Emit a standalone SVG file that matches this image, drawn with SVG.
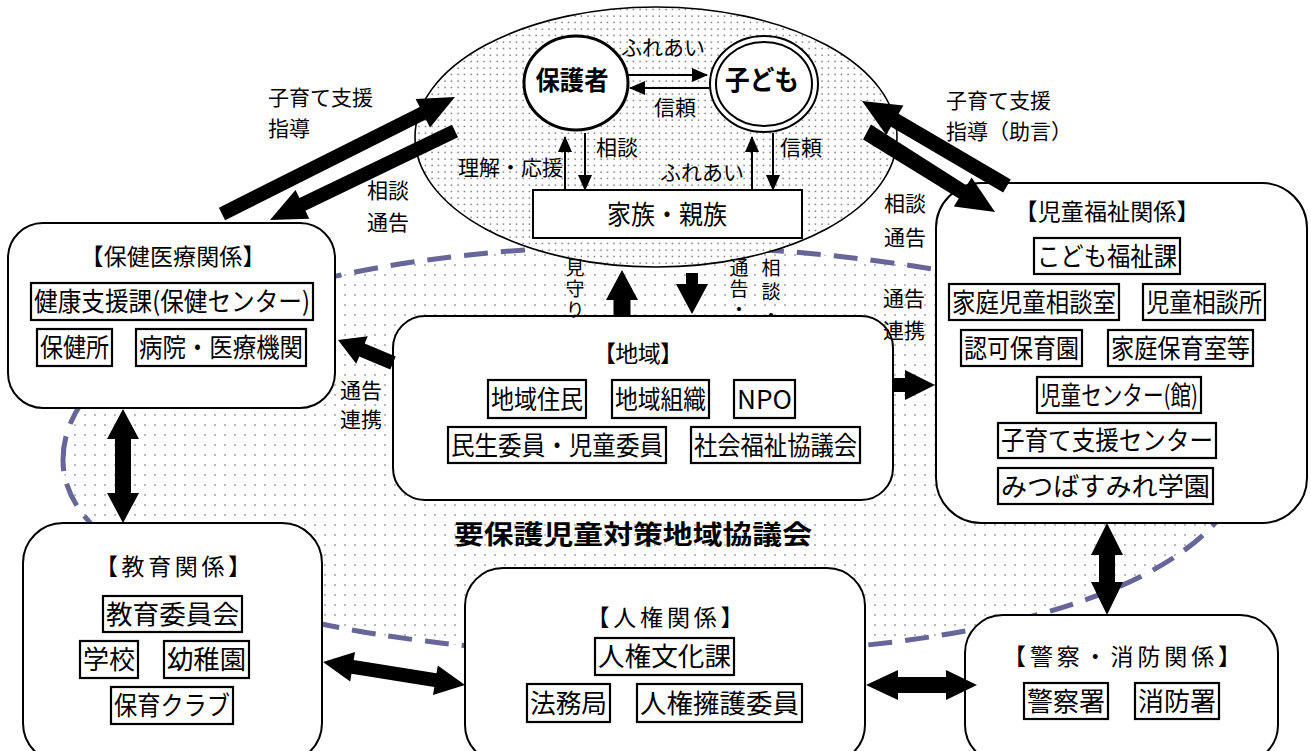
<svg xmlns="http://www.w3.org/2000/svg" width="1311" height="751" viewBox="0 0 1311 751">
<defs>
<style>
text{font-family:"Noto Sans CJK JP","Noto Sans",sans-serif;fill:#000}
.box{fill:#fff;stroke:#000;stroke-width:2}
.ib{fill:#fff;stroke:#000;stroke-width:2.2}
.t{font-size:23px;text-anchor:middle}
.i{font-size:26px;text-anchor:middle}
.l{font-size:21px}
.m{text-anchor:middle}
.e{text-anchor:end}
.v{font-size:19px;writing-mode:vertical-rl}
.thin{stroke:#000;stroke-width:2;fill:none;marker-end:url(#ah)}
.big{fill:#000;stroke:none}
</style>
<pattern id="dotsL" width="10" height="10" patternUnits="userSpaceOnUse"><circle cx="5" cy="5" r="0.9" fill="#9a9a9a"/></pattern>
<pattern id="dotsD" width="6.5" height="6.5" patternUnits="userSpaceOnUse"><circle cx="3" cy="3" r="0.75" fill="#333"/></pattern>
<marker id="ah" viewBox="0 0 16 14" refX="15" refY="7" markerWidth="16" markerHeight="14" markerUnits="userSpaceOnUse" orient="auto"><path d="M0,0 L16,7 L0,14 z" fill="#000"/></marker>
</defs>
<rect width="1311" height="751" fill="#fff"/>

<g id="council">
<path d="M 63,460 C 63,330 330,246 640,246 C 950,246 1250,320 1250,440 C 1250,560 1060,655 660,655 C 330,655 63,580 63,460 Z" fill="url(#dotsL)" stroke="#666699" stroke-width="5" stroke-dasharray="24 13"/>
<text x="633" y="544" font-size="26" font-weight="bold" text-anchor="middle" textLength="358" lengthAdjust="spacingAndGlyphs">要保護児童対策地域協議会</text>
</g>

<g id="family-circle">
<ellipse cx="656" cy="137" rx="241" ry="130" fill="#fff"/>
<ellipse cx="656" cy="137" rx="241" ry="130" fill="url(#dotsD)" stroke="#000" stroke-width="1.6"/>
</g>

<g id="hogosha">
<ellipse cx="576" cy="83" rx="52" ry="47" fill="#fff" stroke="#000" stroke-width="3"/>
<text x="572" y="90" font-size="26" font-weight="bold" text-anchor="middle" textLength="73" lengthAdjust="spacingAndGlyphs">保護者</text>
</g>
<g id="kodomo">
<ellipse cx="764" cy="84" rx="54" ry="48" fill="#fff" stroke="#000" stroke-width="2"/>
<ellipse cx="764" cy="84" rx="48" ry="42" fill="none" stroke="#000" stroke-width="2"/>
<text x="762" y="90" font-size="27" font-weight="bold" text-anchor="middle" textLength="74" lengthAdjust="spacingAndGlyphs">子ども</text>
</g>
<g id="kazoku">
<rect x="533" y="190" width="269" height="48" class="box" stroke-width="2.5"/>
<text x="667" y="223.5" class="i" font-size="24" textLength="120" lengthAdjust="spacingAndGlyphs">家族・親族</text>
</g>

<g id="hoken">
<rect x="8" y="223" width="327" height="185" rx="35" class="box"/>
<text x="173" y="265" class="t" textLength="185">【保健医療関係】</text>
<rect x="31" y="283" width="282" height="37" class="ib"/>
<text x="172" y="311" class="i" textLength="276" lengthAdjust="spacingAndGlyphs">健康支援課(保健センター)</text>
<rect x="37" y="329" width="75" height="37" class="ib"/>
<text x="74.5" y="357" class="i" textLength="69" lengthAdjust="spacingAndGlyphs">保健所</text>
<rect x="136" y="329" width="170" height="37" class="ib"/>
<text x="221" y="357" class="i" textLength="164" lengthAdjust="spacingAndGlyphs">病院・医療機関</text>
</g>

<g id="chiiki">
<rect x="393" y="316" width="500" height="184" rx="32" class="box"/>
<text x="638" y="362" class="t" textLength="90">【地域】</text>
<rect x="488" y="380" width="98" height="38" class="ib"/>
<text x="537" y="408.5" class="i" textLength="92" lengthAdjust="spacingAndGlyphs">地域住民</text>
<rect x="612" y="380" width="97" height="38" class="ib"/>
<text x="660.5" y="408.5" class="i" textLength="91" lengthAdjust="spacingAndGlyphs">地域組織</text>
<rect x="734" y="380" width="61" height="38" class="ib"/>
<text x="764.5" y="408.5" class="i" font-size="28" textLength="55" lengthAdjust="spacingAndGlyphs">NPO</text>
<rect x="448" y="427" width="218" height="36" class="ib"/>
<text x="557" y="454.5" class="i" textLength="212" lengthAdjust="spacingAndGlyphs">民生委員・児童委員</text>
<rect x="691" y="427" width="169" height="36" class="ib"/>
<text x="775.5" y="454.5" class="i" textLength="163" lengthAdjust="spacingAndGlyphs">社会福祉協議会</text>
</g>

<g id="jido">
<rect x="936" y="183" width="371" height="340" rx="45" class="box"/>
<text x="1107" y="220" class="t" textLength="185">【児童福祉関係】</text>
<rect x="1034" y="238" width="146" height="36" class="ib"/>
<text x="1107" y="265.5" class="i" textLength="140" lengthAdjust="spacingAndGlyphs">こども福祉課</text>
<rect x="949" y="284" width="170" height="36" class="ib"/>
<text x="1034" y="311.5" class="i" textLength="164" lengthAdjust="spacingAndGlyphs">家庭児童相談室</text>
<rect x="1143" y="284" width="122" height="36" class="ib"/>
<text x="1204" y="311.5" class="i" textLength="116" lengthAdjust="spacingAndGlyphs">児童相談所</text>
<rect x="961" y="330" width="121" height="36" class="ib"/>
<text x="1021.5" y="357.5" class="i" textLength="115" lengthAdjust="spacingAndGlyphs">認可保育園</text>
<rect x="1108" y="330" width="145" height="36" class="ib"/>
<text x="1180.5" y="357.5" class="i" textLength="139" lengthAdjust="spacingAndGlyphs">家庭保育室等</text>
<rect x="1037" y="377" width="164" height="36" class="ib"/>
<text x="1119" y="404.5" class="i" textLength="158" lengthAdjust="spacingAndGlyphs">児童センター(館)</text>
<rect x="998" y="423" width="218" height="35" class="ib"/>
<text x="1107" y="450" class="i" textLength="212" lengthAdjust="spacingAndGlyphs">子育て支援センター</text>
<rect x="998" y="468" width="215" height="36" class="ib"/>
<text x="1105.5" y="495.5" class="i" textLength="209" lengthAdjust="spacingAndGlyphs">みつばすみれ学園</text>
</g>

<g id="kyoiku">
<rect x="23" y="523" width="299" height="240" rx="40" class="box"/>
<text x="173" y="575" class="t" textLength="156">【教育関係】</text>
<rect x="103" y="596" width="139" height="36" class="ib"/>
<text x="172.5" y="623.5" class="i" textLength="133" lengthAdjust="spacingAndGlyphs">教育委員会</text>
<rect x="80" y="641" width="58" height="37" class="ib"/>
<text x="109" y="669" class="i" textLength="52" lengthAdjust="spacingAndGlyphs">学校</text>
<rect x="164" y="641" width="85" height="37" class="ib"/>
<text x="206.5" y="669" class="i" textLength="79" lengthAdjust="spacingAndGlyphs">幼稚園</text>
<rect x="111" y="687" width="122" height="37" class="ib"/>
<text x="172" y="715" class="i" textLength="116" lengthAdjust="spacingAndGlyphs">保育クラブ</text>
</g>

<g id="jinken">
<rect x="465" y="568" width="400" height="195" rx="38" class="box"/>
<text x="665" y="626" class="t" textLength="157">【人権関係】</text>
<rect x="595" y="638" width="139" height="37" class="ib"/>
<text x="664.5" y="666" class="i" textLength="133" lengthAdjust="spacingAndGlyphs">人権文化課</text>
<rect x="527" y="684" width="83" height="38" class="ib"/>
<text x="568.5" y="712.5" class="i" textLength="77" lengthAdjust="spacingAndGlyphs">法務局</text>
<rect x="637" y="684" width="165" height="38" class="ib"/>
<text x="719.5" y="712.5" class="i" textLength="159" lengthAdjust="spacingAndGlyphs">人権擁護委員</text>
</g>

<g id="keisatsu">
<rect x="965" y="615" width="313" height="148" rx="38" class="box"/>
<text x="1122" y="665" class="t" textLength="238">【警察・消防関係】</text>
<rect x="1024" y="683" width="84" height="36" class="ib"/>
<text x="1066" y="710.5" class="i" textLength="78" lengthAdjust="spacingAndGlyphs">警察署</text>
<rect x="1135" y="683" width="84" height="36" class="ib"/>
<text x="1177" y="710.5" class="i" textLength="78" lengthAdjust="spacingAndGlyphs">消防署</text>
</g>

<g id="connectors">
<line x1="628" y1="75" x2="707" y2="75" class="thin"/>
<line x1="709" y1="88" x2="630" y2="88" class="thin"/>
<line x1="565" y1="190" x2="565" y2="137" class="thin"/>
<line x1="585" y1="133" x2="585" y2="190" class="thin"/>
<line x1="752" y1="190" x2="752" y2="137" class="thin"/>
<line x1="773" y1="133" x2="773" y2="190" class="thin"/>

<polygon class="big" points="218.9,207.7 419.7,106.9 415.6,98.9 455,97 430.0,127.5 425.9,119.5 225.1,220.3"/>
<polygon class="big" points="452.0,124.7 299.4,198.1 295.5,190.0 270,220 309.3,218.8 305.4,210.7 458.0,137.3"/>
<polygon class="big" points="1010.8,179.5 898.6,113.7 903.4,105.5 862,101 886.2,134.9 891.0,126.7 1003.2,192.5"/>
<polygon class="big" points="870.9,124.6 966.6,185.6 971.6,177.5 995,212 953.8,206.5 958.8,198.4 863.1,139.4"/>
<polygon class="big" points="395.7,356.5 364.7,343.5 367.8,336.2 338,340 356.2,363.8 359.3,356.5 390.3,369.5"/>
<polygon class="big" points="893,378 905,378 905,370 935,385 905,400 905,392 893,392"/>
<polygon class="big" points="613.5,316 613.5,300 606,300 622,270 638,300 630.5,300 630.5,316"/>
<polygon class="big" points="686,273 698,273 698,284 708,284 692,314 676,284 686,284"/>
<polygon class="big" points="123,409 139,439 131,439 131,493 139,493 123,523 107,493 115,493 115,439 107,439"/>
<polygon class="big" points="1107,523 1123,555 1115,555 1115,582 1123,582 1107,615 1091,582 1099,582 1099,555 1091,555"/>
<polygon class="big" points="866,685 898,670 898,677 946,677 946,670 977,685 946,700 946,693 898,693 898,700"/>
<polygon class="big" points="323,662 355.0,652.0 353.7,659.9 436.5,673.3 437.8,665.4 465,685 433.0,695.0 434.3,687.1 351.5,673.7 350.2,681.6"/>
</g>

<g id="labels">
<text x="663" y="54.5" class="l m">ふれあい</text>
<text x="675" y="114.5" class="l m">信頼</text>
<text x="596" y="154.5" class="l">相談</text>
<text x="563" y="174.5" class="l e">理解・応援</text>
<text x="780" y="154.5" class="l">信頼</text>
<text x="702" y="179.5" class="l m">ふれあい</text>
<text x="268" y="104.5" class="l">子育て支援</text>
<text x="268" y="135.5" class="l">指導</text>
<text x="367" y="197.5" class="l">相談</text>
<text x="367" y="229.5" class="l">通告</text>
<text x="946" y="107.5" class="l">子育て支援</text>
<text x="946" y="138.5" class="l">指導（助言）</text>
<text x="884" y="210.5" class="l">相談</text>
<text x="884" y="244.5" class="l">通告</text>
<text x="883" y="305.5" class="l">通告</text>
<text x="883" y="337.5" class="l">連携</text>
<text x="340" y="397.5" class="l">通告</text>
<text x="340" y="426.5" class="l">連携</text>
<text x="575" y="258" class="v" letter-spacing="2">見守り</text>
<text x="739" y="258.5" class="v" letter-spacing="2">通告・</text>
<text x="771" y="258.5" class="v" letter-spacing="5">相談・</text>
</g>
</svg>
